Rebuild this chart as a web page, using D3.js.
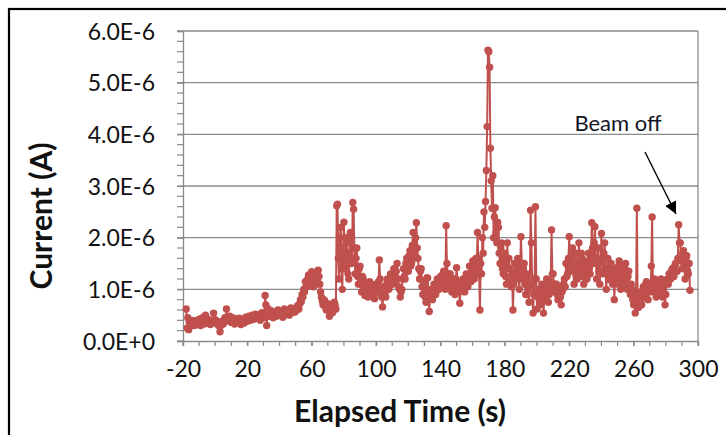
<!DOCTYPE html>
<html>
<head>
<meta charset="utf-8">
<script src="https://cdn.jsdelivr.net/npm/d3@7"></script>
<style>
  html, body { margin: 0; padding: 0; background: #fff; }
  svg { display: block; }
  text { font-family: Lato, "Liberation Sans", sans-serif; }
</style>
</head>
<body>
<svg id="chart" width="726" height="435"></svg>
<script>
// Elapsed time (s) of each sample
const elapsedTime = [
  -18,-17.5,-17,-16.5,-16,-15.5,-15,-14.5,-14,-13.5,-13,-12.5,-12,-11.5,-11,-10.5,-10,-9.5,-9,-8.5,
  -8,-7.5,-7,-6.5,-6,-5.5,-5,-4.5,-4,-3.5,-3,-2.5,-2,-1.5,-1,-0.5,0,0.5,1,1.5,
  2,2.5,3,3.5,4,4.5,5,5.5,6,6.5,7,7.5,8,8.5,9,9.5,10,10.5,11,11.5,
  12,12.5,13,13.5,14,14.5,15,15.5,16,16.5,17,17.5,18,18.5,19,19.5,20,20.5,21,21.5,
  22,22.5,23,23.5,24,24.5,25,25.5,26,26.5,27,27.5,28,28.5,29,29.5,30,30.5,31,31.5,
  32,32.5,33,33.5,34,34.5,35,35.5,36,36.5,37,37.5,38,38.5,39,39.5,40,40.5,41,41.5,
  42,42.5,43,43.5,44,44.5,45,45.5,46,46.5,47,47.5,48,48.5,49,49.5,50,50.5,51,51.5,
  52,52.5,53,53.5,54,54.5,55,55.5,56,56.5,57,57.5,58,58.5,59,59.5,60,60.5,61,61.5,
  62,62.5,63,63.5,64,64.5,65,65.5,66,66.5,67,67.5,68,68.5,69,69.5,70,70.5,71,71.5,
  72,72.5,73,73.5,74,74.5,75,75.5,76,76.5,77,77.5,78,78.5,79,79.5,80,80.5,81,81.5,
  82,82.5,83,83.5,84,84.5,85,85.5,86,86.5,87,87.5,88,88.5,89,89.5,90,90.5,91,91.5,
  92,92.5,93,93.5,94,94.5,95,95.5,96,96.5,97,97.5,98,98.5,99,99.5,100,100.5,101,101.5,
  102,102.5,103,103.5,104,104.5,105,105.5,106,106.5,107,107.5,108,108.5,109,109.5,110,110.5,111,111.5,
  112,112.5,113,113.5,114,114.5,115,115.5,116,116.5,117,117.5,118,118.5,119,119.5,120,120.5,121,121.5,
  122,122.5,123,123.5,124,124.5,125,125.5,126,126.5,127,127.5,128,128.5,129,129.5,130,130.5,131,131.5,
  132,132.5,133,133.5,134,134.5,135,135.5,136,136.5,137,137.5,138,138.5,139,139.5,140,140.5,141,141.5,
  142,142.5,143,143.5,144,144.5,145,145.5,146,146.5,147,147.5,148,148.5,149,149.5,150,150.5,151,151.5,
  152,152.5,153,153.5,154,154.5,155,155.5,156,156.5,157,157.5,158,158.5,159,159.5,160,160.5,161,161.5,
  162,162.5,163,163.5,164,164.5,165,165.5,166,166.5,167,167.5,168,168.5,169,169.5,170,170.5,171,171.5,
  172,172.5,173,173.5,174,174.5,175,175.5,176,176.5,177,177.5,178,178.5,179,179.5,180,180.5,181,181.5,
  182,182.5,183,183.5,184,184.5,185,185.5,186,186.5,187,187.5,188,188.5,189,189.5,190,190.5,191,191.5,
  192,192.5,193,193.5,194,194.5,195,195.5,196,196.5,197,197.5,198,198.5,199,199.5,200,200.5,201,201.5,
  202,202.5,203,203.5,204,204.5,205,205.5,206,206.5,207,207.5,208,208.5,209,209.5,210,210.5,211,211.5,
  212,212.5,213,213.5,214,214.5,215,215.5,216,216.5,217,217.5,218,218.5,219,219.5,220,220.5,221,221.5,
  222,222.5,223,223.5,224,224.5,225,225.5,226,226.5,227,227.5,228,228.5,229,229.5,230,230.5,231,231.5,
  232,232.5,233,233.5,234,234.5,235,235.5,236,236.5,237,237.5,238,238.5,239,239.5,240,240.5,241,241.5,
  242,242.5,243,243.5,244,244.5,245,245.5,246,246.5,247,247.5,248,248.5,249,249.5,250,250.5,251,251.5,
  252,252.5,253,253.5,254,254.5,255,255.5,256,256.5,257,257.5,258,258.5,259,259.5,260,260.5,261,261.5,
  262,262.5,263,263.5,264,264.5,265,265.5,266,266.5,267,267.5,268,268.5,269,269.5,270,270.5,271,271.5,
  272,272.5,273,273.5,274,274.5,275,275.5,276,276.5,277,277.5,278,278.5,279,279.5,280,280.5,281,281.5,
  282,282.5,283,283.5,284,284.5,285,285.5,286,286.5,287,287.5,288,288.5,289,289.5,290,290.5,291,291.5,
  292,292.5,293,293.5,294,294.5,295
];

// Measured current in microamps, one value per sample above
const currentMicroAmps = [
  0.62,0.25,0.45,0.22,0.40,0.30,0.36,0.30,0.40,0.33,0.30,0.38,0.34,0.40,0.32,0.38,0.42,0.34,0.30,0.38,
  0.45,0.36,0.33,0.40,0.50,0.38,0.35,0.42,0.40,0.34,0.32,0.38,0.40,0.36,0.54,0.42,0.35,0.40,0.38,0.33,
  0.30,0.36,0.18,0.30,0.38,0.34,0.33,0.40,0.45,0.38,0.62,0.45,0.40,0.44,0.48,0.38,0.36,0.42,0.45,0.36,
  0.33,0.40,0.42,0.36,0.38,0.42,0.44,0.37,0.32,0.38,0.40,0.35,0.35,0.42,0.46,0.40,0.38,0.44,0.48,0.42,
  0.40,0.46,0.50,0.44,0.42,0.48,0.52,0.45,0.44,0.50,0.50,0.46,0.40,0.48,0.55,0.48,0.45,0.50,0.88,0.70,
  0.30,0.48,0.62,0.52,0.48,0.54,0.58,0.50,0.45,0.52,0.55,0.50,0.48,0.56,0.60,0.52,0.50,0.55,0.56,0.50,
  0.46,0.54,0.62,0.55,0.52,0.58,0.58,0.54,0.50,0.58,0.64,0.56,0.55,0.60,0.60,0.56,0.58,0.64,0.68,0.62,
  0.62,0.72,0.80,0.76,0.90,0.85,1.00,0.95,1.15,1.05,1.05,1.20,1.28,1.12,1.10,1.25,1.34,1.15,1.05,1.22,
  1.20,1.10,1.30,1.20,1.37,1.25,1.10,0.95,0.85,0.78,0.70,0.80,0.78,0.66,0.60,0.70,0.72,0.62,0.48,0.58,
  0.65,0.55,0.55,0.68,0.75,0.70,0.62,2.62,2.65,1.60,1.20,2.00,2.20,1.40,1.00,1.80,2.30,1.50,1.40,2.00,
  1.90,1.30,1.20,1.70,2.10,1.50,1.60,2.68,2.55,1.80,1.30,1.60,1.80,1.25,1.10,1.40,1.45,1.10,0.95,1.25,
  1.20,1.00,0.88,1.05,1.10,0.95,0.85,1.05,1.15,0.95,0.92,1.08,1.05,0.90,0.82,1.00,1.10,0.95,0.95,1.15,
  1.57,1.20,1.00,0.85,0.66,0.95,1.05,0.92,0.85,1.10,1.20,1.05,1.00,1.20,1.30,1.10,1.10,1.25,1.40,1.20,
  1.15,1.35,1.50,1.20,1.05,1.00,0.85,0.95,1.00,1.20,1.40,1.25,1.20,1.50,1.60,1.40,1.35,1.65,1.75,1.45,
  1.50,1.85,2.10,1.60,1.70,2.00,2.29,1.80,1.60,1.40,1.20,1.35,1.40,1.05,0.90,1.15,1.10,0.85,0.75,1.22,
  1.22,0.95,0.57,0.90,1.00,0.85,0.80,1.00,1.10,0.95,0.90,1.10,1.20,1.00,1.00,1.15,1.25,1.10,1.05,1.30,
  1.35,1.15,1.00,2.23,1.50,1.25,1.10,1.30,1.30,1.05,0.95,1.15,1.20,1.00,0.90,1.20,1.42,1.15,1.10,0.95,
  0.73,1.00,1.05,1.15,1.20,1.00,0.95,1.15,1.30,1.10,1.05,1.30,1.45,1.25,1.15,1.40,1.55,1.30,1.20,1.50,
  1.60,1.35,2.10,1.60,1.30,0.60,1.50,1.30,2.00,1.70,2.50,2.20,2.70,3.30,4.15,5.63,5.60,5.30,3.73,3.10,
  2.57,3.20,2.00,2.40,2.58,2.10,1.90,2.30,2.20,1.70,1.50,1.80,1.90,1.40,1.30,1.60,1.70,1.25,1.10,1.90,
  1.40,1.60,1.40,1.15,1.05,1.30,0.60,1.10,1.50,1.25,1.20,1.45,1.60,1.30,1.00,1.40,2.02,1.50,1.20,1.40,
  1.50,1.10,0.90,1.20,1.30,1.00,0.75,1.10,2.53,1.90,1.10,0.54,0.90,1.20,2.60,1.20,0.62,0.85,1.00,0.80,
  0.70,0.95,1.10,0.85,0.54,0.80,0.90,1.05,1.20,0.95,0.75,0.90,1.00,1.15,2.15,1.30,1.30,1.05,0.95,1.10,
  1.10,0.90,0.80,1.00,1.05,0.85,0.70,0.95,1.00,1.10,1.20,1.05,1.50,1.25,1.30,1.60,2.02,1.50,1.40,1.65,
  1.80,1.35,1.10,1.50,1.70,1.25,1.20,1.55,1.90,1.40,1.30,1.70,1.60,1.25,1.10,1.45,1.50,1.20,1.20,1.55,
  1.70,1.40,1.30,1.60,2.29,1.80,1.50,1.90,2.21,1.60,1.20,1.50,1.80,1.35,1.10,1.55,2.08,1.60,1.30,1.70,
  1.90,1.40,1.00,1.35,1.60,1.20,1.20,1.50,1.50,1.15,1.10,1.40,0.80,1.20,1.40,1.15,1.10,1.45,1.55,1.25,
  1.00,1.35,1.45,1.20,1.10,1.40,1.50,1.20,1.00,1.25,1.35,1.05,0.90,1.10,1.00,0.80,0.70,0.90,0.54,0.85,
  2.57,0.80,0.65,0.90,0.95,0.75,0.70,0.95,1.05,0.90,0.85,1.10,1.15,0.95,0.80,1.05,1.10,0.95,1.45,2.40,
  1.00,1.15,1.20,0.95,0.85,1.10,1.15,0.95,0.90,1.10,1.20,1.00,0.85,1.05,1.10,0.70,0.90,1.15,1.20,1.10,
  1.30,1.20,1.20,1.35,1.40,1.25,1.25,1.45,1.50,1.35,1.35,1.60,2.25,1.90,1.90,1.55,1.40,1.70,1.75,1.45,
  1.20,1.60,1.65,1.35,1.30,1.50,0.98
];

// Axis ticks
const xTickValues = [-20, 20, 60, 100, 140, 180, 220, 260, 300];
const yTickValues = [0, 1e-6, 2e-6, 3e-6, 4e-6, 5e-6, 6e-6];
const yTickLabels = ["0.0E+0", "1.0E-6", "2.0E-6", "3.0E-6", "4.0E-6", "5.0E-6", "6.0E-6"];

const series = elapsedTime.map((t, i) => ({ t, a: currentMicroAmps[i] * 1e-6 }));

const svg = d3.select("#chart");
const plot = { left: 183, right: 698, top: 31, bottom: 341 };

const x = d3.scaleLinear().domain([-20, 300]).range([plot.left, plot.right]);
const y = d3.scaleLinear().domain([0, 6e-6]).range([plot.bottom, plot.top]);

const gridColor = "#8a8a8a";
const seriesColor = "#c0504d";

// Outer frame
svg.append("rect")
  .attr("x", 9).attr("y", 9).attr("width", 760).attr("height", 480)
  .attr("fill", "none").attr("stroke", "#000").attr("stroke-width", 2.2);

// Horizontal gridlines
svg.append("g").selectAll("line").data(yTickValues.slice(1)).join("line")
  .attr("x1", plot.left).attr("x2", plot.right)
  .attr("y1", d => y(d)).attr("y2", d => y(d))
  .attr("stroke", gridColor).attr("stroke-width", 1.3);

// Right border of the plot area
svg.append("line")
  .attr("x1", plot.right).attr("x2", plot.right)
  .attr("y1", plot.top).attr("y2", plot.bottom)
  .attr("stroke", gridColor).attr("stroke-width", 1.3);

// Minor ticks
const yMinor = d3.range(0, 31).map(i => i * 0.2e-6);
svg.append("g").selectAll("line").data(yMinor).join("line")
  .attr("x1", plot.left - 6).attr("x2", plot.left)
  .attr("y1", d => y(d)).attr("y2", d => y(d))
  .attr("stroke", gridColor).attr("stroke-width", 1.2);

const xMinor = d3.range(-20, 301, 10);
svg.append("g").selectAll("line").data(xMinor).join("line")
  .attr("x1", d => x(d)).attr("x2", d => x(d))
  .attr("y1", plot.bottom).attr("y2", plot.bottom + 5)
  .attr("stroke", gridColor).attr("stroke-width", 1.2);

// Axes
const yAxis = svg.append("g")
  .attr("transform", `translate(${plot.left},0)`)
  .call(d3.axisLeft(y).tickValues(yTickValues)
    .tickFormat((d, i) => yTickLabels[i]).tickSize(6).tickPadding(22));
const xAxis = svg.append("g")
  .attr("transform", `translate(0,${plot.bottom})`)
  .call(d3.axisBottom(x).tickValues(xTickValues)
    .tickFormat(d => String(d)).tickSize(5).tickPadding(22));

[yAxis, xAxis].forEach(g => {
  g.select(".domain").attr("stroke", gridColor).attr("stroke-width", 1.3);
  g.selectAll(".tick line").attr("stroke", gridColor).attr("stroke-width", 1.2);
  g.selectAll(".tick text")
    .attr("fill", "#111").style("font-size", "23px")
    .style("font-family", "Lato, 'Liberation Sans', sans-serif");
});
yAxis.selectAll(".tick text").attr("dy", "0.36em");
xAxis.selectAll(".tick text").attr("dy", "0.71em").attr("y", 20);

// Series line and markers
const line = d3.line().x(d => x(d.t)).y(d => y(d.a));
svg.append("path").datum(series)
  .attr("d", line).attr("fill", "none")
  .attr("stroke", seriesColor).attr("stroke-width", 2)
  .attr("stroke-linejoin", "round");
svg.append("g").selectAll("circle").data(series).join("circle")
  .attr("cx", d => x(d.t)).attr("cy", d => y(d.a)).attr("r", 3.7)
  .attr("fill", seriesColor);

// Axis titles
svg.append("text")
  .attr("x", 400).attr("y", 422).attr("text-anchor", "middle")
  .style("font-size", "30px").style("font-weight", "bold").attr("fill", "#111")
  .text("Elapsed Time (s)");
svg.append("text")
  .attr("transform", "translate(52,216) rotate(-90)").attr("text-anchor", "middle")
  .style("font-size", "30px").style("font-weight", "bold").attr("fill", "#111")
  .text("Current (A)");

// Annotation
svg.append("defs").append("marker")
  .attr("id", "arrowhead").attr("viewBox", "0 0 10 10")
  .attr("refX", 10).attr("refY", 5)
  .attr("markerWidth", 14).attr("markerHeight", 12).attr("markerUnits", "userSpaceOnUse")
  .attr("orient", "auto")
  .append("path").attr("d", "M0,0 L10,5 L0,10 Z").attr("fill", "#000");

svg.append("line")
  .attr("x1", 645).attr("y1", 152).attr("x2", 676).attr("y2", 214)
  .attr("stroke", "#000").attr("stroke-width", 1.4)
  .attr("marker-end", "url(#arrowhead)");
svg.append("text")
  .attr("x", 618).attr("y", 131).attr("text-anchor", "middle")
  .style("font-size", "22px").attr("fill", "#141428")
  .text("Beam off");
</script>
</body>
</html>
